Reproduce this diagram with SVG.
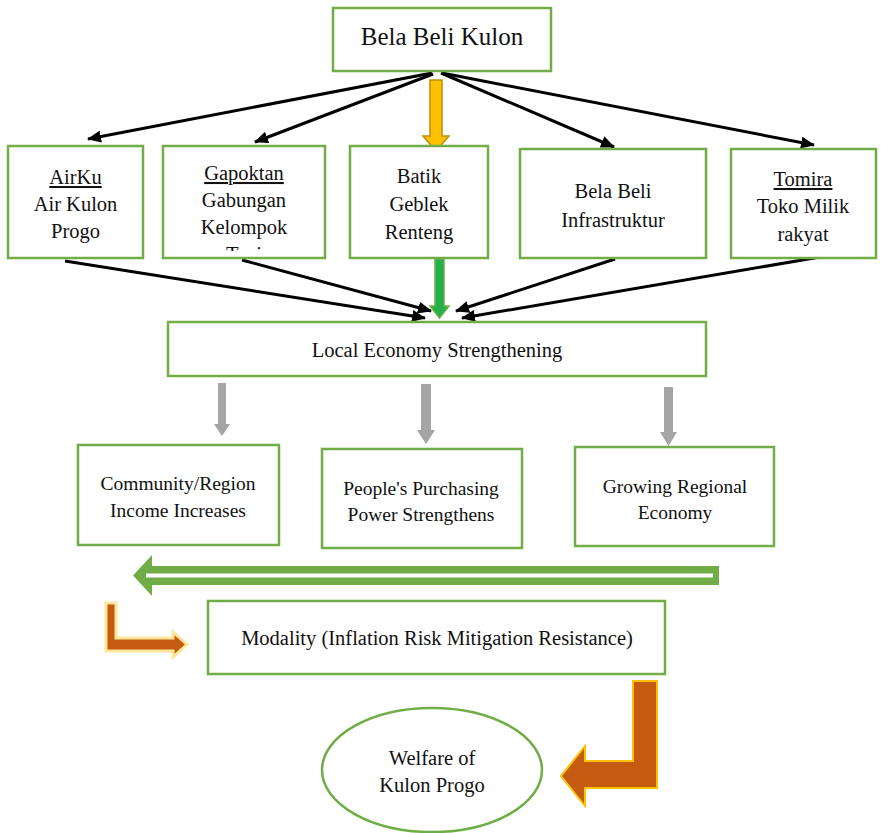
<svg xmlns="http://www.w3.org/2000/svg" width="882" height="833" viewBox="0 0 882 833">
<style>
.box{fill:#fff;stroke:#70AD47;stroke-width:2.5}
.t{font-family:"Liberation Serif","Times New Roman",serif;fill:#111;text-anchor:middle}
.t20{font-size:20.5px}
.u{text-decoration:underline}
.conn{stroke:#000;stroke-width:3;fill:none;marker-end:url(#ah)}
.gray{fill:#A5A5A5}
</style>
<defs>
<marker id="ah" markerUnits="userSpaceOnUse" markerWidth="14" markerHeight="12" refX="13" refY="6" orient="auto">
<path d="M0,0 L14,6 L0,12 z" fill="#000"/>
</marker>
<clipPath id="clipG"><rect x="165" y="148" width="159" height="103"/></clipPath>
</defs>
<rect width="882" height="833" fill="#fff"/>

<g id="connectors">
<line class="conn" x1="432" y1="73" x2="88" y2="139"/>
<line class="conn" x1="433" y1="74" x2="255" y2="142"/>
<line class="conn" x1="441" y1="73" x2="614" y2="147"/>
<line class="conn" x1="442" y1="73" x2="814" y2="145"/>
<line class="conn" x1="65" y1="261" x2="425" y2="318"/>
<line class="conn" x1="242" y1="260" x2="431" y2="311"/>
<line class="conn" x1="615" y1="259" x2="456" y2="311"/>
<line class="conn" x1="820" y1="257" x2="462" y2="318"/>
<polygon points="430,80 442,80 442,136 449,136 436,151 423,136 430,136" fill="#FFC000" stroke="#BF9000" stroke-width="1.5"/>
<polygon points="435,259 444,259 444,306 449,306 439.5,318 430,306 435,306" fill="#22B24C" stroke="#70AD47" stroke-width="1.5"/>
<polygon class="gray" points="218,383 226,383 226,424 230,424 222,436 214,424 218,424"/>
<polygon class="gray" points="421,384 431,384 431,430 435,430 426,444 417,430 421,430"/>
<polygon class="gray" points="664,387 673,387 673,432 677,432 668.5,446 660,432 664,432"/>
<polygon points="719,566 152,566 152,555 133,575.5 152,596 152,585 719,585" fill="#70AD47"/>
<line x1="146" y1="575.5" x2="713" y2="575.5" stroke="#fff" stroke-width="4"/>
<polygon points="106,603 116,603 116,638 173,638 173,632 187,644.5 173,657 173,651 106,651" fill="#C55A11" stroke="#FFE699" stroke-width="3"/>
<polygon points="633,681 657,681 657,788 585,788 585,806 561,776 585,746 585,761 633,761" fill="#C55A11" stroke="#FFC000" stroke-width="2"/>
</g>

<g id="bela-beli-kulon">
<rect class="box" x="333" y="8" width="218" height="63"/>
<text class="t" x="442" y="45" font-size="25">Bela Beli Kulon</text>
</g>

<g id="airku">
<rect class="box" x="8" y="146" width="135" height="112"/>
<text class="t t20" x="75.5"><tspan class="u" x="75.5" y="184">AirKu</tspan><tspan x="75.5" y="211">Air Kulon</tspan><tspan x="75.5" y="238">Progo</tspan></text>
</g>

<g id="gapoktan">
<rect class="box" x="163" y="146" width="162" height="112"/>
<g clip-path="url(#clipG)">
<text class="t t20" x="244"><tspan class="u" x="244" y="180">Gapoktan</tspan><tspan x="244" y="207">Gabungan</tspan><tspan x="244" y="234">Kelompok</tspan><tspan x="244" y="261">Tani</tspan></text>
</g>
</g>

<g id="batik">
<rect class="box" x="350" y="146" width="138" height="112"/>
<text class="t t20" x="419"><tspan x="419" y="183">Batik</tspan><tspan x="419" y="211">Geblek</tspan><tspan x="419" y="239">Renteng</tspan></text>
</g>

<g id="infrastruktur">
<rect class="box" x="520" y="149" width="186" height="109"/>
<text class="t t20" x="613"><tspan x="613" y="198">Bela Beli</tspan><tspan x="613" y="227">Infrastruktur</tspan></text>
</g>

<g id="tomira">
<rect class="box" x="731" y="149" width="145" height="109"/>
<text class="t t20" x="803"><tspan class="u" x="803" y="186">Tomira</tspan><tspan x="803" y="213">Toko Milik</tspan><tspan x="803" y="241">rakyat</tspan></text>
</g>

<g id="local-economy">
<rect class="box" x="168" y="322" width="538" height="54"/>
<text class="t t20" x="437" y="357">Local Economy Strengthening</text>
</g>

<g id="community-income">
<rect class="box" x="78" y="445" width="201" height="100"/>
<text class="t" font-size="19.5" x="178"><tspan x="178" y="490">Community/Region</tspan><tspan x="178" y="517">Income Increases</tspan></text>
</g>

<g id="purchasing-power">
<rect class="box" x="322" y="449" width="200" height="99"/>
<text class="t" font-size="19.5" x="421"><tspan x="421" y="495">People's Purchasing</tspan><tspan x="421" y="521">Power Strengthens</tspan></text>
</g>

<g id="regional-economy">
<rect class="box" x="575" y="447" width="199" height="99"/>
<text class="t" font-size="19.5" x="675"><tspan x="675" y="493">Growing Regional</tspan><tspan x="675" y="519">Economy</tspan></text>
</g>

<g id="modality">
<rect class="box" x="208" y="601" width="457" height="73"/>
<text class="t t20" x="437" y="645">Modality (Inflation Risk Mitigation Resistance)</text>
</g>

<g id="welfare">
<ellipse cx="432" cy="770" rx="110" ry="62" fill="#fff" stroke="#70AD47" stroke-width="2.5"/>
<text class="t t20" x="432"><tspan x="432" y="765">Welfare of</tspan><tspan x="432" y="792">Kulon Progo</tspan></text>
</g>
</svg>
